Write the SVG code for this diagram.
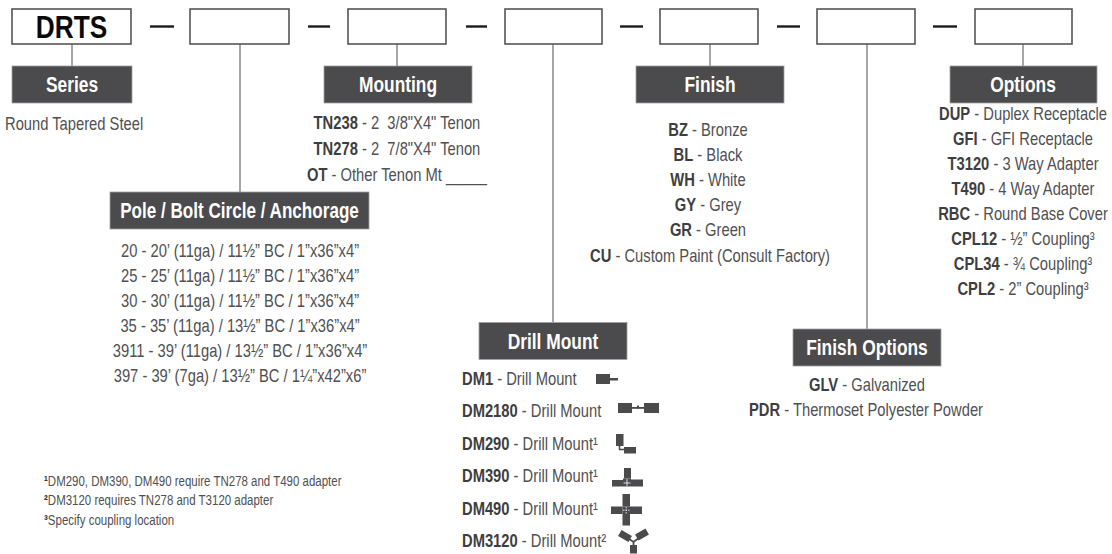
<svg xmlns="http://www.w3.org/2000/svg" width="1112" height="554" viewBox="0 0 1112 554">
<defs>
<style>
text{font-family:"Liberation Sans",Arial,sans-serif;}
.code{fill:none;stroke:#555557;stroke-width:1.6;}
.dash{stroke:#1a1a1a;stroke-width:2.4;}
.conn{stroke:#6a6a6a;stroke-width:1.2;fill:none;}
.hdr{fill:#4b4b4d;stroke:#a0a0a0;stroke-width:0.8;}
.ht{fill:#ffffff;font-weight:bold;font-size:21.2px;text-anchor:middle;}
.t{fill:#505052;font-size:18px;}
.c{text-anchor:middle;}
.b{font-weight:bold;fill:#3e3e40;}
.fn{fill:#505052;font-size:14px;}
.ic{fill:#4b4b4d;}
</style>
</defs>
<g id="connectors">
<line class="dash" x1="150" y1="26.5" x2="174" y2="26.5"/>
<line class="dash" x1="308" y1="26.5" x2="330" y2="26.5"/>
<line class="dash" x1="466" y1="26.5" x2="487" y2="26.5"/>
<line class="dash" x1="620" y1="26.5" x2="643" y2="26.5"/>
<line class="dash" x1="777" y1="26.5" x2="800" y2="26.5"/>
<line class="dash" x1="933" y1="26.5" x2="957" y2="26.5"/>
<line class="conn" x1="72" y1="44" x2="72" y2="66"/>
<line class="conn" x1="240" y1="44" x2="240" y2="192"/>
<line class="conn" x1="397" y1="44" x2="397" y2="66"/>
<line class="conn" x1="553" y1="44" x2="553" y2="322"/>
<line class="conn" x1="710" y1="44" x2="710" y2="66"/>
<line class="conn" x1="867" y1="44" x2="867" y2="329"/>
<line class="conn" x1="1023" y1="44" x2="1023" y2="66"/>
</g>
<g id="code-boxes">
<g id="box-series"><rect class="code" x="12" y="9" width="119" height="35"/><g transform="scale(0.82 1)"><text x="87.2" y="38.5" font-size="32" font-weight="bold" fill="#0a0a0a" text-anchor="middle">DRTS</text></g></g>
<g id="box-pole"><rect class="code" x="190" y="9" width="99" height="35"/></g>
<g id="box-mounting"><rect class="code" x="348" y="9" width="98" height="35"/></g>
<g id="box-drill"><rect class="code" x="505" y="9" width="97" height="35"/></g>
<g id="box-finish"><rect class="code" x="660" y="9" width="98" height="35"/></g>
<g id="box-finishopt"><rect class="code" x="817" y="9" width="98" height="35"/></g>
<g id="box-options"><rect class="code" x="975" y="9" width="97" height="35"/></g>
</g>
<g id="series">
<rect class="hdr" x="12" y="66" width="120" height="37"/>
<g transform="scale(0.82 1)">
<text class="ht" x="87.8" y="92.5">Series</text>
<text class="t" x="6.1" y="130">Round Tapered Steel</text>
</g>
</g>
<g id="mounting">
<rect class="hdr" x="324" y="66" width="148" height="37"/>
<g transform="scale(0.82 1)">
<text class="ht" x="485.4" y="92.5">Mounting</text>
<text class="t c" x="484.1" y="129" xml:space="preserve"><tspan class="b">TN238</tspan> - 2  3/8"X4" Tenon</text>
<text class="t c" x="484.1" y="155" xml:space="preserve"><tspan class="b">TN278</tspan> - 2  7/8"X4" Tenon</text>
<text class="t c" x="484.1" y="181"><tspan class="b">OT</tspan> - Other Tenon Mt _____</text>
</g>
</g>
<g id="finish">
<rect class="hdr" x="636" y="66" width="148" height="37"/>
<g transform="scale(0.82 1)">
<text class="ht" x="865.9" y="92.5">Finish</text>
<text class="t c" x="863.4" y="136"><tspan class="b">BZ</tspan> - Bronze</text>
<text class="t c" x="863.4" y="161.5"><tspan class="b">BL</tspan> - Black</text>
<text class="t c" x="863.4" y="186.5"><tspan class="b">WH</tspan> - White</text>
<text class="t c" x="863.4" y="211.5"><tspan class="b">GY</tspan> - Grey</text>
<text class="t c" x="863.4" y="236.5"><tspan class="b">GR</tspan> - Green</text>
<text class="t c" x="865.9" y="262"><tspan class="b">CU</tspan> - Custom Paint (Consult Factory)</text>
</g>
</g>
<g id="options">
<rect class="hdr" x="950" y="66" width="147" height="37"/>
<g transform="scale(0.82 1)">
<text class="ht" x="1247.6" y="92.5">Options</text>
<text class="t c" x="1247.6" y="120"><tspan class="b">DUP</tspan> - Duplex Receptacle</text>
<text class="t c" x="1247.6" y="145"><tspan class="b">GFI</tspan> - GFI Receptacle</text>
<text class="t c" x="1247.6" y="170"><tspan class="b">T3120</tspan> - 3 Way Adapter</text>
<text class="t c" x="1247.6" y="195"><tspan class="b">T490</tspan> - 4 Way Adapter</text>
<text class="t c" x="1247.6" y="220"><tspan class="b">RBC</tspan> - Round Base Cover</text>
<text class="t c" x="1247.6" y="245"><tspan class="b">CPL12</tspan> - ½” Coupling³</text>
<text class="t c" x="1247.6" y="270"><tspan class="b">CPL34</tspan> - ¾ Coupling³</text>
<text class="t c" x="1247.6" y="295"><tspan class="b">CPL2</tspan> - 2” Coupling³</text>
</g>
</g>
<g id="pole">
<rect class="hdr" x="110" y="192" width="259" height="37"/>
<g transform="scale(0.82 1)">
<text class="ht" x="292.1" y="218.5" textLength="291" lengthAdjust="spacingAndGlyphs">Pole / Bolt Circle / Anchorage</text>
<text class="t c" x="292.7" y="257">20 - 20’ (11ga) / 11½” BC / 1”x36”x4”</text>
<text class="t c" x="292.7" y="282">25 - 25’ (11ga) / 11½” BC / 1”x36”x4”</text>
<text class="t c" x="292.7" y="307">30 - 30’ (11ga) / 11½” BC / 1”x36”x4”</text>
<text class="t c" x="292.7" y="332">35 - 35’ (11ga) / 13½” BC / 1”x36”x4”</text>
<text class="t c" x="292.7" y="357">3911 - 39’ (11ga) / 13½” BC / 1”x36”x4”</text>
<text class="t c" x="292.7" y="382">397 - 39’ (7ga) / 13½” BC / 1¼”x42”x6”</text>
</g>
</g>
<g id="drill-mount">
<rect class="hdr" x="479" y="322.5" width="148" height="37"/>
<g transform="scale(0.82 1)">
<text class="ht" x="674.4" y="349">Drill Mount</text>
<text class="t" x="563.4" y="385"><tspan class="b">DM1</tspan> - Drill Mount</text>
<text class="t" x="563.4" y="417.5"><tspan class="b">DM2180</tspan> - Drill Mount</text>
<text class="t" x="563.4" y="450"><tspan class="b">DM290</tspan> - Drill Mount¹</text>
<text class="t" x="563.4" y="482.5"><tspan class="b">DM390</tspan> - Drill Mount¹</text>
<text class="t" x="563.4" y="515"><tspan class="b">DM490</tspan> - Drill Mount¹</text>
<text class="t" x="563.4" y="547"><tspan class="b">DM3120</tspan> - Drill Mount²</text>
</g>
<g id="icon-dm1"><rect class="ic" x="596" y="374" width="14" height="10"/><rect class="ic" x="610" y="378" width="8" height="2.5"/></g>
<g id="icon-dm2180"><rect class="ic" x="618" y="403" width="14" height="10"/><rect class="ic" x="632" y="407" width="12" height="1.8"/><rect class="ic" x="637" y="405.5" width="2" height="3"/><rect class="ic" x="644" y="403" width="15" height="10"/></g>
<g id="icon-dm290"><rect class="ic" x="616" y="434" width="7.5" height="12"/><path d="M619.5 446 V449.5 H624" fill="none" stroke="#4b4b4d" stroke-width="1.5"/><rect class="ic" x="624" y="447" width="12" height="6.5"/></g>
<g id="icon-dm390"><rect class="ic" x="624" y="468" width="7" height="10.5"/><rect class="ic" x="612" y="480" width="11" height="6.5"/><rect class="ic" x="631" y="479.5" width="12" height="7"/><rect class="ic" x="623" y="478.5" width="8" height="8"/><path d="M627 479 V486 M623.5 483 H630.5" stroke="#ffffff" stroke-width="0.8"/></g>
<g id="icon-dm490"><rect class="ic" x="622.5" y="494" width="7.5" height="12.5"/><rect class="ic" x="622.5" y="514" width="7.5" height="11.5"/><rect class="ic" x="611" y="506.5" width="11.5" height="7.5"/><rect class="ic" x="630" y="506.5" width="12" height="7.5"/><rect class="ic" x="622.5" y="506.5" width="7.5" height="7.5"/><path d="M626.2 507 V513.5 M623 510.2 H629.5" stroke="#ffffff" stroke-width="0.8" stroke-dasharray="1.5 1"/></g>
<g id="icon-dm3120"><rect class="ic" x="630" y="545" width="7" height="8.5"/><rect class="ic" x="619" y="532.5" width="12" height="7" transform="rotate(30 625 536)"/><rect class="ic" x="636" y="531" width="12" height="7" transform="rotate(-30 642 534.5)"/><path d="M628.5 538.5 L633.5 542 L639 538 M633.5 542 V545" fill="none" stroke="#4b4b4d" stroke-width="1.8"/></g>
</g>
<g id="finish-options">
<rect class="hdr" x="793" y="329" width="148" height="37"/>
<g transform="scale(0.82 1)">
<text class="ht" x="1057.3" y="355.5">Finish Options</text>
<text class="t c" x="1057.3" y="391"><tspan class="b">GLV</tspan> - Galvanized</text>
<text class="t c" x="1056.1" y="416"><tspan class="b">PDR</tspan> - Thermoset Polyester Powder</text>
</g>
</g>
<g id="footnotes" transform="scale(0.82 1)">
<text class="fn" x="53.7" y="486"><tspan font-weight="bold" fill="#333">¹</tspan>DM290, DM390, DM490 require TN278 and T490 adapter</text>
<text class="fn" x="53.7" y="505.5"><tspan font-weight="bold" fill="#333">²</tspan>DM3120 requires TN278 and T3120 adapter</text>
<text class="fn" x="53.7" y="525"><tspan font-weight="bold" fill="#333">³</tspan>Specify coupling location</text>
</g>
</svg>
